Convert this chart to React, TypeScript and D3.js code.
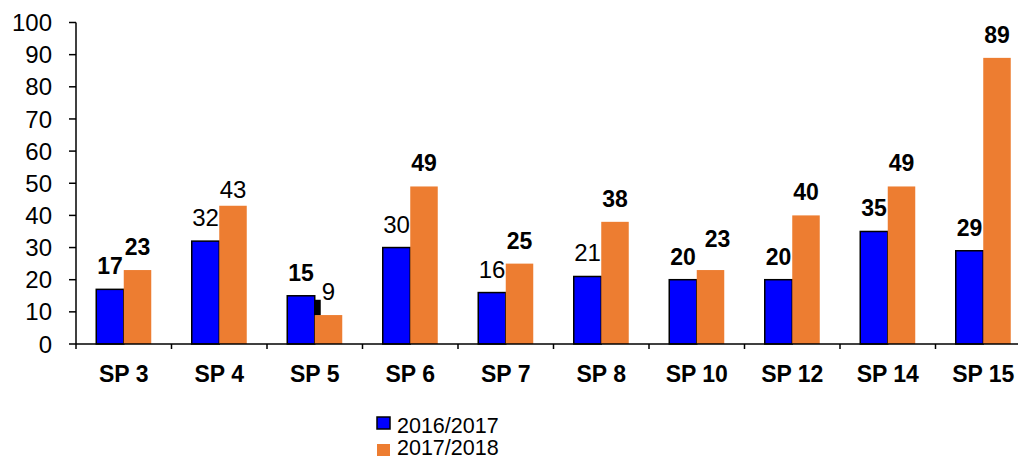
import React from "react";
import * as d3 from "d3";

// Chart data
const categories = ["SP 3", "SP 4", "SP 5", "SP 6", "SP 7", "SP 8", "SP 10", "SP 12", "SP 14", "SP 15"];
const series = ["2016/2017", "2017/2018"];
const values2016 = [17, 32, 15, 30, 16, 21, 20, 20, 35, 29];
const values2017 = [23, 43, 9, 49, 25, 38, 23, 40, 49, 89];
// which value labels are printed in bold
const bold2016 = [true, false, true, false, false, false, true, true, true, true];
const bold2017 = [true, false, false, true, true, true, true, true, true, true];
const yTicks = [0, 10, 20, 30, 40, 50, 60, 70, 80, 90, 100];

const colors = ["#0000FF", "#ED7D31"];
const font = "Arial, 'Liberation Sans', sans-serif";

const width = 1018;
const height = 461;

const App = () => {
  const x = d3.scaleBand().domain(categories).range([76, 1031]).padding(0);
  const y = d3.scaleLinear().domain([0, 100]).range([344, 22.5]);
  const barW = 27.5;
  const xs = d3
    .scaleBand()
    .domain(series)
    .range([x.bandwidth() / 2 - barW, x.bandwidth() / 2 + barW]);

  const data = [values2016, values2017];
  const bolds = [bold2016, bold2017];

  // small manual label nudges, like the moved labels in the original
  const nudge = (s, i) => {
    if (s === 1 && categories[i] === "SP 4") return { dx: 0, dy: 7 };
    if (s === 1 && categories[i] === "SP 10") return { dx: 7, dy: -8 };
    return { dx: 0, dy: 0 };
  };

  const sp5 = categories.indexOf("SP 5");

  return (
    <svg
      width={width}
      height={height}
      style={{ position: "absolute", left: 0, top: 0, background: "#fff" }}
      fontFamily={font}
    >
      {/* y axis */}
      <line x1={76} x2={76} y1={y(100)} y2={y(0)} stroke="#000" strokeWidth={1.5} />
      {yTicks.map((t) => (
        <g key={t}>
          <line x1={69} x2={76} y1={y(t)} y2={y(t)} stroke="#000" strokeWidth={1.5} />
          <text x={52} y={y(t)} dy="0.36em" textAnchor="end" fontSize={24}>
            {t}
          </text>
        </g>
      ))}

      {/* bars */}
      {data.map((vals, s) =>
        vals.map((v, i) => (
          <rect
            key={`${s}-${i}`}
            x={(x(categories[i]) ?? 0) + (xs(series[s]) ?? 0)}
            y={y(v)}
            width={barW}
            height={y(0) - y(v)}
            fill={colors[s]}
            stroke={s === 0 ? "#000" : "none"}
            strokeWidth={1.5}
          />
        ))
      )}

      {/* odd dark mark beside SP 5 */}
      <rect
        x={(x("SP 5") ?? 0) + (xs(series[1]) ?? 0)}
        y={y(values2016[sp5]) + 4}
        width={6}
        height={y(values2017[sp5]) - y(values2016[sp5]) - 4}
        fill="#000"
      />

      {/* value labels */}
      {data.map((vals, s) =>
        vals.map((v, i) => {
          const n = nudge(s, i);
          return (
            <text
              key={`l${s}-${i}`}
              x={(x(categories[i]) ?? 0) + (xs(series[s]) ?? 0) + barW / 2 + n.dx}
              y={y(v) - 15 + n.dy}
              textAnchor="middle"
              fontSize={bolds[s][i] ? 23 : 24}
              fontWeight={bolds[s][i] ? "bold" : "normal"}
            >
              {v}
            </text>
          );
        })
      )}

      {/* x axis */}
      <line x1={76} x2={width} y1={y(0)} y2={y(0)} stroke="#000" strokeWidth={1.5} />
      {categories.map((c) => (
        <g key={c}>
          <line
            x1={x(c) ?? 0}
            x2={x(c) ?? 0}
            y1={y(0)}
            y2={y(0) + 5}
            stroke="#000"
            strokeWidth={1.5}
          />
          <text
            x={(x(c) ?? 0) + x.bandwidth() / 2}
            y={382}
            textAnchor="middle"
            fontSize={23}
            fontWeight="bold"
          >
            {c}
          </text>
        </g>
      ))}

      {/* legend */}
      {series.map((s, i) => (
        <g key={s} transform={`translate(377,${417 + i * 27})`}>
          <rect
            width={13}
            height={12}
            fill={colors[i]}
            stroke={i === 0 ? "#000" : "none"}
            strokeWidth={1.5}
          />
          <text x={20} y={i === 0 ? 16 : 11} fontSize={21.5}>
            {s}
          </text>
        </g>
      ))}
    </svg>
  );
};

export default App;
